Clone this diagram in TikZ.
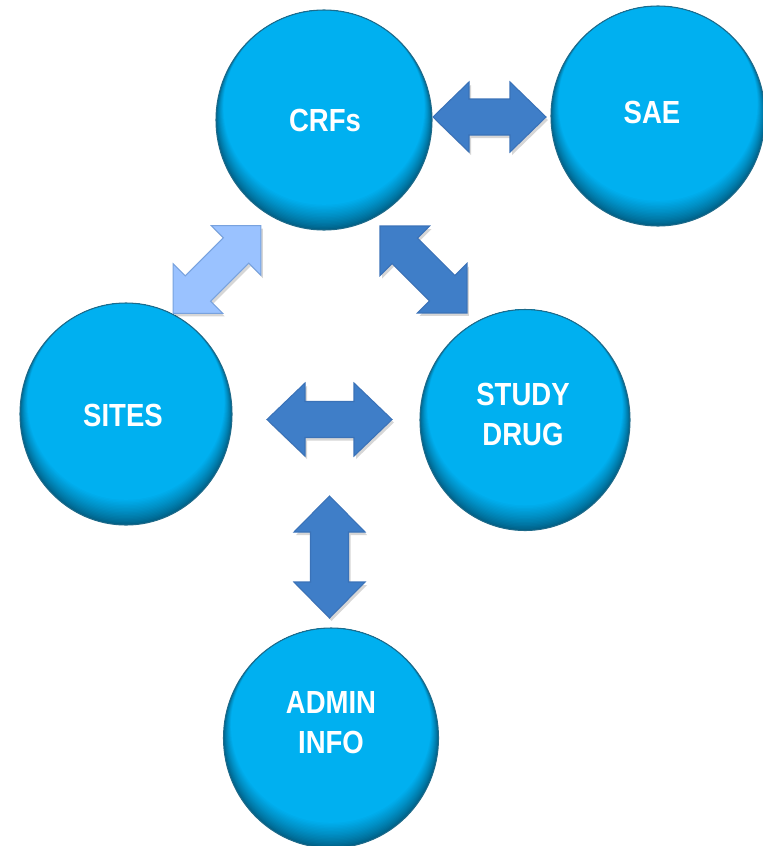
\documentclass[tikz,border=0pt]{standalone}
\usepackage{fontspec}
\setmainfont{Liberation Sans}[FakeStretch=0.86]
\usetikzlibrary{shapes.geometric,calc}
\definecolor{cfill}{HTML}{00B0F0}
\definecolor{cdark}{HTML}{005F85}
\definecolor{cline}{HTML}{1D6A8A}
\definecolor{adark}{HTML}{3F7EC8}
\definecolor{adarkline}{HTML}{3A72B8}
\definecolor{alight}{HTML}{9AC2FF}
\definecolor{alightline}{HTML}{78A2DE}
\tikzset{
  pics/dblarrow/.style args={#1/#2/#3/#4}{code={
    \path[pic actions] (-#1/2,0) -- (-#1/2+#4,#3) -- (-#1/2+#4,#2) -- (#1/2-#4,#2)
      -- (#1/2-#4,#3) -- (#1/2,0) -- (#1/2-#4,-#3) -- (#1/2-#4,-#2)
      -- (-#1/2+#4,-#2) -- (-#1/2+#4,-#3) -- cycle;
  }},
  % #1, #2: half width and half height in px
  ball/.style 2 args={ellipse, draw=cline, line width=0.8pt, inner sep=0pt,
    minimum width=#1*1.5pt, minimum height=#2*1.5pt,
    path picture={
      \fill[cdark] (path picture bounding box.south west) rectangle (path picture bounding box.north east);
      \foreach \k in {1,...,18}{
        \pgfmathsetmacro\s{\k*1.4}
        \pgfmathsetmacro\c{100*(\k/18)^0.8}
        \fill[cfill!\c!cdark] ($(path picture bounding box.center)+(0,-0.5*\s)$)
          ellipse [x radius={#1-0.3*\s}, y radius={#2-0.5*\s}];
      }
    }},
  lbl/.style={text=white, font=\fontsize{24}{30}\selectfont\bfseries, align=center, inner sep=0pt},
  darkarrow/.style={fill=adark, draw=adarkline, line width=0.8pt, line join=miter},
  lightarrow/.style={fill=alight, draw=alightline, line width=0.8pt, line join=miter},
  arrowshadow/.style={fill=black, opacity=0.16}
}
\begin{document}
\begin{tikzpicture}[x=0.75pt,y=-0.75pt]
\useasboundingbox (0,0) rectangle (763,846);

% circles
\node[ball={108}{110}] (crf) at (324,120) {};
\node[ball={107}{110}] (sae) at (658,116) {};
\node[ball={106}{111}] (sites) at (126,414) {};
\node[ball={105}{110.5}] (drug) at (525,420) {};
\node[ball={107.5}{110}] (admin) at (331,738) {};

% labels
\node[lbl] (tcrf) at (325,120) {CRFs};
\node[lbl] (tsae) at (652,112) {SAE};
\node[lbl] (tsites) at (123,415) {SITES};
\node[lbl] (tdrug) at (523,414) {STUDY\\DRUG};
\node[lbl] (tadmin) at (331,723) {ADMIN\\INFO};

% arrow end points
\coordinate (e1a) at (433,117);   \coordinate (e1b) at (546,117);
\coordinate (e2a) at (267,419.5); \coordinate (e2b) at (392,419.5);
\coordinate (e3a) at (329.5,496); \coordinate (e3b) at (329.5,618);
\coordinate (e4a) at (173,313);   \coordinate (e4b) at (261,226);
\coordinate (e5a) at (380,226);   \coordinate (e5b) at (467,313);

% shadows
\pic[arrowshadow] at ($($(e1a)!0.5!(e1b)$)+(2,3)$) {dblarrow=113/18/35/36};
\pic[arrowshadow] at ($($(e2a)!0.5!(e2b)$)+(2,3)$) {dblarrow=125/18/36.5/38};
\pic[arrowshadow, rotate=90] at ($($(e3a)!0.5!(e3b)$)+(2,3)$) {dblarrow=122/19/35.5/36};
\pic[arrowshadow, rotate=45] at ($($(e4a)!0.5!(e4b)$)+(2,3)$) {dblarrow=124/18/35/35};
\pic[arrowshadow, rotate=-45] at ($($(e5a)!0.5!(e5b)$)+(2,3)$) {dblarrow=123/18/35/35};

% block arrows
\pic[darkarrow] (crf-sae) at ($(e1a)!0.5!(e1b)$) {dblarrow=113/18/35/36};
\pic[darkarrow] (sites-drug) at ($(e2a)!0.5!(e2b)$) {dblarrow=125/18/36.5/38};
\pic[darkarrow, rotate=90] (mid-admin) at ($(e3a)!0.5!(e3b)$) {dblarrow=122/19/35.5/36};
\pic[lightarrow, rotate=45] (sites-crf) at ($(e4a)!0.5!(e4b)$) {dblarrow=124/18/35/35};
\pic[darkarrow, rotate=-45] (crf-drug) at ($(e5a)!0.5!(e5b)$) {dblarrow=123/18/35/35};
\end{tikzpicture}
\end{document}
